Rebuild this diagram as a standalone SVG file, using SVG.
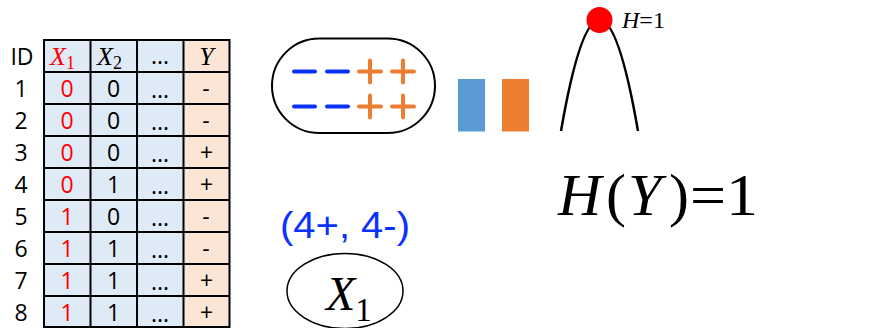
<svg xmlns="http://www.w3.org/2000/svg" width="876" height="328" viewBox="0 0 876 328">
<style>
.t{font-family:"Open Sans","Liberation Sans",sans-serif;font-size:23px;text-anchor:middle;fill:#000}
.r{fill:#FF0000}
.m{font-family:"Liberation Serif",serif;font-style:italic}
.hd{font-family:"Liberation Serif",serif;font-size:26px}
.grid{stroke:#000;stroke-width:2;fill:none}
.dash{stroke:#0A32FF;stroke-width:4;stroke-linecap:round}
.plus{stroke:#ED7D31;stroke-width:4;stroke-linecap:round}
.s{font-family:"Liberation Serif",serif}
</style>
<rect width="876" height="328" fill="#fff"/>
<g id="table">
<rect x="44" y="40" width="139.5" height="287" fill="#DEEAF6"/>
<rect x="183.5" y="40" width="46" height="287" fill="#FBE5D6"/>
<g class="grid">
<rect x="44" y="40" width="185.5" height="287"/>
<line x1="90.5" y1="40" x2="90.5" y2="327"/>
<line x1="137" y1="40" x2="137" y2="327"/>
<line x1="183.5" y1="40" x2="183.5" y2="327"/>
<line x1="44" y1="72" x2="229.5" y2="72"/>
<line x1="44" y1="104" x2="229.5" y2="104"/>
<line x1="44" y1="136" x2="229.5" y2="136"/>
<line x1="44" y1="168" x2="229.5" y2="168"/>
<line x1="44" y1="200" x2="229.5" y2="200"/>
<line x1="44" y1="232" x2="229.5" y2="232"/>
<line x1="44" y1="264" x2="229.5" y2="264"/>
<line x1="44" y1="296" x2="229.5" y2="296"/>
</g>
<text class="t" x="22" y="65">ID</text>
<text class="hd" x="50" y="65" fill="#FF0000"><tspan font-style="italic">X</tspan><tspan font-size="18" dy="4">1</tspan></text>
<text class="hd" x="97" y="65"><tspan font-style="italic">X</tspan><tspan font-size="18" dy="4">2</tspan></text>
<text class="t" x="160" y="64">...</text>
<text class="hd" x="206.5" y="65" font-style="italic" text-anchor="middle">Y</text>
<g>
<text class="t" x="21" y="97">1</text><text class="t r" x="67" y="97">0</text><text class="t" x="113.5" y="97">0</text><text class="t" x="160" y="98">...</text><text class="t" x="206" y="97">-</text>
<text class="t" x="21" y="129">2</text><text class="t r" x="67" y="129">0</text><text class="t" x="113.5" y="129">0</text><text class="t" x="160" y="130">...</text><text class="t" x="206" y="129">-</text>
<text class="t" x="21" y="161">3</text><text class="t r" x="67" y="161">0</text><text class="t" x="113.5" y="161">0</text><text class="t" x="160" y="162">...</text><text class="t" x="206.5" y="161">+</text>
<text class="t" x="21" y="193">4</text><text class="t r" x="67" y="193">0</text><text class="t" x="113.5" y="193">1</text><text class="t" x="160" y="194">...</text><text class="t" x="206.5" y="193">+</text>
<text class="t" x="21" y="225">5</text><text class="t r" x="67" y="225">1</text><text class="t" x="113.5" y="225">0</text><text class="t" x="160" y="226">...</text><text class="t" x="206" y="225">-</text>
<text class="t" x="21" y="257">6</text><text class="t r" x="67" y="257">1</text><text class="t" x="113.5" y="257">1</text><text class="t" x="160" y="258">...</text><text class="t" x="206" y="257">-</text>
<text class="t" x="21" y="289">7</text><text class="t r" x="67" y="289">1</text><text class="t" x="113.5" y="289">1</text><text class="t" x="160" y="290">...</text><text class="t" x="206.5" y="289">+</text>
<text class="t" x="21" y="321">8</text><text class="t r" x="67" y="321">1</text><text class="t" x="113.5" y="321">1</text><text class="t" x="160" y="322">...</text><text class="t" x="206.5" y="321">+</text>
</g>
</g>
<g id="pill">
<rect x="272" y="38.5" width="163" height="94.5" rx="47.25" fill="none" stroke="#000" stroke-width="2"/>
<line class="dash" x1="294" y1="71.5" x2="315" y2="71.5"/>
<line class="dash" x1="327" y1="71.5" x2="348" y2="71.5"/>
<line class="dash" x1="294" y1="106.5" x2="315" y2="106.5"/>
<line class="dash" x1="327" y1="106.5" x2="348" y2="106.5"/>
<path class="plus" d="M359,71.5h22M370,60.5v22M392,71.5h22M403,60.5v22M359,106.5h22M370,95.5v22M392,106.5h22M403,95.5v22"/>
</g>
<g id="bars">
<rect x="458" y="79" width="27" height="52.5" fill="#5B9BD5"/>
<rect x="502" y="79" width="27" height="52.5" fill="#ED7D31"/>
</g>
<g id="curve">
<path d="M561,131 Q599.5,-91 638,131" fill="none" stroke="#000" stroke-width="2.5"/>
<circle cx="599.5" cy="20" r="13" fill="#FF0000"/>
<text class="s" x="622" y="28" font-size="24"><tspan font-style="italic">H</tspan><tspan>=1</tspan></text>
</g>
<g id="entropy" class="s">
<text x="558" y="215" font-size="60" font-style="italic">H</text>
<text x="606" y="215" font-size="60">(</text>
<text x="628" y="215" font-size="60" font-style="italic">Y</text>
<text x="669" y="215" font-size="60">)</text>
<text x="690" y="215" font-size="60" textLength="68" lengthAdjust="spacingAndGlyphs">=1</text>
</g>
<g id="counts">
<text x="345" y="238" font-family="Liberation Sans,Arial,sans-serif" font-size="37" fill="#0A32FF" text-anchor="middle" textLength="130" lengthAdjust="spacingAndGlyphs">(4+, 4-)</text>
</g>
<g id="node-x1">
<ellipse cx="345" cy="291" rx="58" ry="37.5" fill="none" stroke="#000" stroke-width="1.5"/>
<text class="s" x="326" y="310" font-size="48"><tspan font-style="italic">X</tspan><tspan font-size="33" dy="11">1</tspan></text>
</g>
</svg>
